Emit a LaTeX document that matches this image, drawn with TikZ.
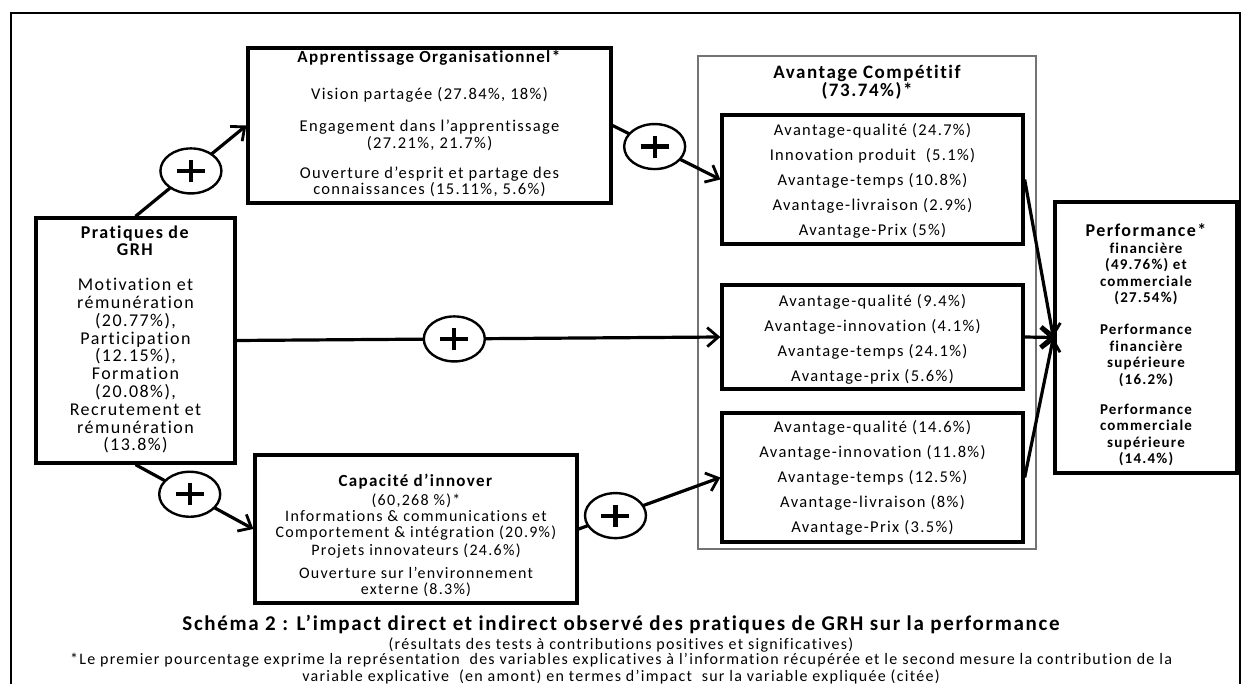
\documentclass[tikz,border=0pt]{standalone}
\usepackage{fontspec}
\setmainfont{Carlito}[LetterSpace=8,Ligatures={NoCommon}]
\usetikzlibrary{arrows.meta,shapes.geometric}
\tikzset{
  box/.style={draw, line width=3.3pt, inner sep=0pt},
  thinbox/.style={draw=black!55, line width=1.4pt, inner sep=0pt},
  txt/.style={align=center, inner sep=0pt, font=\fontsize{16.5}{16.5}\selectfont},
  conn/.style={line width=3.2pt, -{Straight Barb[length=11pt,width=19pt,line width=2.8pt]}},
  plus/.style={ellipse, draw, line width=2.4pt, fill=white, minimum width=61pt, minimum height=45pt, inner sep=0pt},
  plusbar/.style={line width=4.2pt},
  frame/.style={draw, line width=1.3pt},
}
\newcommand{\plusmark}[1]{%
  \draw[plusbar] ([xshift=-14pt]#1.center) -- ([xshift=14pt]#1.center);
  \draw[plusbar] ([yshift=-11pt]#1.center) -- ([yshift=11pt]#1.center);}
\begin{document}
\begin{tikzpicture}[x=1pt,y=-1pt]
\useasboundingbox (0,0) rectangle (1242,684);
\draw[frame] (11,690) -- (11,13) -- (1240,13) -- (1240,690);

% boxes
\node[box, minimum width=363pt, minimum height=155pt] (ao) at (429.5,125.5) {};
\node[txt] (aot) at (429.5,124) {\textbf{\fontsize{17}{17}\selectfont Apprentissage Organisationnel*}\\[20.5pt]
  Vision partagée (27.84\%, 18\%)\\[15.5pt]
  Engagement dans l’apprentissage\\(27.21\%, 21.7\%)\\[13.5pt]
  Ouverture d’esprit et partage des\\connaissances (15.11\%, 5.6\%)};

\node[box, minimum width=199pt, minimum height=245pt] (pr) at (135.5,340.5) {};
\node[txt, font=\fontsize{18}{17.8}\selectfont] (prt) at (135.5,339.5) {\textbf{Pratiques de}\\\textbf{GRH}\\[17pt]
  Motivation et\\rémunération\\(20.77\%),\\Participation\\(12.15\%),\\Formation\\(20.08\%),\\Recrutement et\\rémunération\\(13.8\%)};

\node[box, minimum width=322pt, minimum height=148pt] (cap) at (416,529) {};
\node[txt, font=\fontsize{16}{16}\selectfont] (capt) at (416,535.5) {\textbf{\fontsize{17}{17}\selectfont Capacité d’innover}\\[2.3pt]
  (60,268 \%)*\\Informations \& communications et\\Comportement \& intégration (20.9\%)\\[2.3pt]
  Projets innovateurs (24.6\%)\\[6.7pt]
  Ouverture sur l’environnement\\externe (8.3\%)};

\node[thinbox, minimum width=338pt, minimum height=493pt] (ac) at (867,302.5) {};
\node[txt, font=\fontsize{19}{18}\selectfont\bfseries] (act) at (867,82) {Avantage Compétitif\\(73.74\%)*};

\node[box, minimum width=301pt, minimum height=129pt] (b1) at (872.5,179.5) {};
\node[txt, font=\fontsize{16.5}{25}\selectfont] (b1t) at (872.5,180.5) {Avantage-qualité (24.7\%)\\Innovation produit~ (5.1\%)\\Avantage-temps (10.8\%)\\Avantage-livraison (2.9\%)\\Avantage-Prix (5\%)};

\node[box, minimum width=301pt, minimum height=104pt] (b2) at (872.5,337) {};
\node[txt, font=\fontsize{16.5}{25}\selectfont] (b2t) at (872.5,339.5) {Avantage-qualité (9.4\%)\\Avantage-innovation (4.1\%)\\Avantage-temps (24.1\%)\\Avantage-prix (5.6\%)};

\node[box, minimum width=301pt, minimum height=129pt] (b3) at (872.5,477.5) {};
\node[txt, font=\fontsize{16.5}{25}\selectfont] (b3t) at (872.5,477.5) {Avantage-qualité (14.6\%)\\Avantage-innovation (11.8\%)\\Avantage-temps (12.5\%)\\Avantage-livraison (8\%)\\Avantage-Prix (3.5\%)};

\node[box, minimum width=182pt, minimum height=271pt] (pf) at (1146,337.5) {};
\node[txt, font=\fontsize{15}{16.5}\selectfont\bfseries] (pft) at (1146,345) {{\fontsize{18}{18}\selectfont Performance*}\\financière\\(49.76\%) et\\commerciale\\(27.54\%)\\[15.5pt]
  Performance\\financière\\supérieure\\(16.2\%)\\[13.5pt]
  Performance\\commerciale\\supérieure\\(14.4\%)};

% connectors with plus signs
\draw[conn] (pr.north) -- (ao.west) node[plus, pos=0.5] (p1) {};
\draw[conn] (ao.east) -- (b1.west) node[plus, pos=0.39] (p2) {};
\draw[conn] (pr.east) -- (b2.west) node[plus, pos=0.45] (p3) {};
\draw[conn] (pr.south) -- (cap.west) node[plus, pos=0.46] (p4) {};
\draw[conn] (cap.east) -- (b3.west) node[plus, pos=0.26] (p5) {};
\plusmark{p1}\plusmark{p2}\plusmark{p3}\plusmark{p4}\plusmark{p5}

\draw[conn] (b1.east) -- (pf.west);
\draw[conn] (b2.east) -- (pf.west);
\draw[conn] (b3.east) -- (pf.west);

% caption
\node[inner sep=0pt, font=\fontsize{21}{21}\selectfont\bfseries] (cp1) at (621,625) {Schéma 2 : L’impact direct et indirect observé des pratiques de GRH sur la performance};
\node[inner sep=0pt, font=\fontsize{16}{16}\selectfont] (cp2) at (621,645) {(résultats des tests à contributions positives et significatives)};
\node[inner sep=0pt, font=\fontsize{16}{16}\selectfont] (cp3) at (621,660) {*Le premier pourcentage exprime la représentation~ des variables explicatives à l’information récupérée et le second mesure la contribution de la};
\node[inner sep=0pt, font=\fontsize{16}{16}\selectfont] (cp4) at (621,677) {variable explicative~ (en amont) en termes d’impact~ sur la variable expliquée (citée)};
\end{tikzpicture}
\end{document}
